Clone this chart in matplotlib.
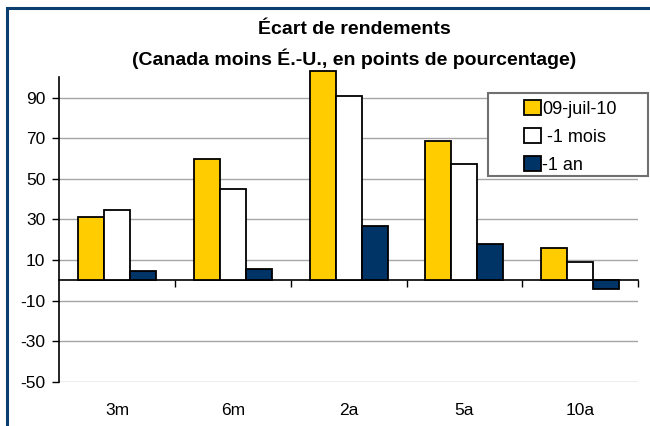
import matplotlib
matplotlib.use("Agg")
import matplotlib.pyplot as plt
from matplotlib.patches import Rectangle, Patch
import matplotlib.transforms as mtransforms
import numpy as np

plt.rcParams['font.family'] = ['Liberation Sans', 'DejaVu Sans']
plt.rcParams['axes.unicode_minus'] = False

categories = ["3m", "6m", "2a", "5a", "10a"]
series_names = ["09-juil-10", " -1 mois", "-1 an"]
juil10 = [31.1, 59.8, 103.0, 68.8, 15.9]
un_mois = [34.4, 45.1, 90.8, 57.4, 9.2]
un_an = [4.6, 5.4, 26.7, 18.0, -4.4]
yticks = [90, 70, 50, 30, 10, -10, -30, -50]

colors = ["#FFCC00", "#FFFFFF", "#003366"]

W, H = 650, 426
fig = plt.figure(figsize=(6.5, 4.26), dpi=100)
ax = fig.add_axes([59.3 / W, 1 - 381.7 / H, (638 - 59.3) / W, (381.7 - 77.3) / H])

x = np.arange(len(categories))
bw = 0.225
for i, (vals, c) in enumerate(zip([juil10, un_mois, un_an], colors)):
    ax.bar(x + (i - 1) * bw, vals, width=bw, color=c, edgecolor="black",
           linewidth=1.3, zorder=3, clip_on=False)

ax.set_xlim(-0.5, len(categories) - 0.5)
ax.set_ylim(-50, 100)
ax.set_yticks(yticks)
ax.tick_params(axis="y", labelsize=12.5, length=5, width=1, pad=5, colors="black")
ax.yaxis.grid(True, color="#a6a6a6", linewidth=1)
ax.set_axisbelow(True)

ax.spines["top"].set_visible(False)
ax.spines["right"].set_visible(False)
ax.spines["bottom"].set_position(("data", 0))
ax.spines["left"].set_linewidth(1.2)
ax.spines["bottom"].set_linewidth(1.2)
ax.set_xticks(x[:-1] + 0.5)
ax.set_xticks([len(categories) - 0.5], minor=True)
ax.tick_params(axis="x", which="both", length=5, width=1, labelbottom=False)

trans = mtransforms.blended_transform_factory(ax.transData, ax.transAxes)
for xi, lab in zip(x, categories):
    ax.text(xi, -0.093, lab, transform=trans, ha="center", va="center", fontsize=12.5)

fig.text(354 / W, 1 - 30 / H, "Écart de rendements", ha="center", va="center",
         fontsize=14, fontweight="bold")
fig.text(354 / W, 1 - 59 / H, "(Canada moins É.-U., en points de pourcentage)",
         ha="center", va="center", fontsize=14, fontweight="bold")

# legend frame
fig.patches.append(Rectangle((487.7 / W, 1 - 176 / H), (648 - 487.7) / W, (176 - 93.3) / H,
                             transform=fig.transFigure, facecolor="white",
                             edgecolor="#707070", linewidth=1.5, zorder=5))
handles = [Patch(facecolor=c, edgecolor="black", linewidth=1.3) for c in colors]
leg = fig.legend(handles, series_names, loc="center left", frameon=False,
                 bbox_to_anchor=(510 / W, 1 - 137 / H), fontsize=13,
                 handlelength=0.9, handleheight=0.9, handletextpad=0.1,
                 labelspacing=0.55, borderpad=0.3)
leg.set_zorder(6)

# outer frame
fig.patches.append(Rectangle((7 / W, -0.05), 1.0, 1 - 8 / H + 0.05, transform=fig.transFigure,
                             facecolor="none", edgecolor="#0b3d6e", linewidth=2.2, zorder=10))

fig.savefig("out.png", dpi=100)
